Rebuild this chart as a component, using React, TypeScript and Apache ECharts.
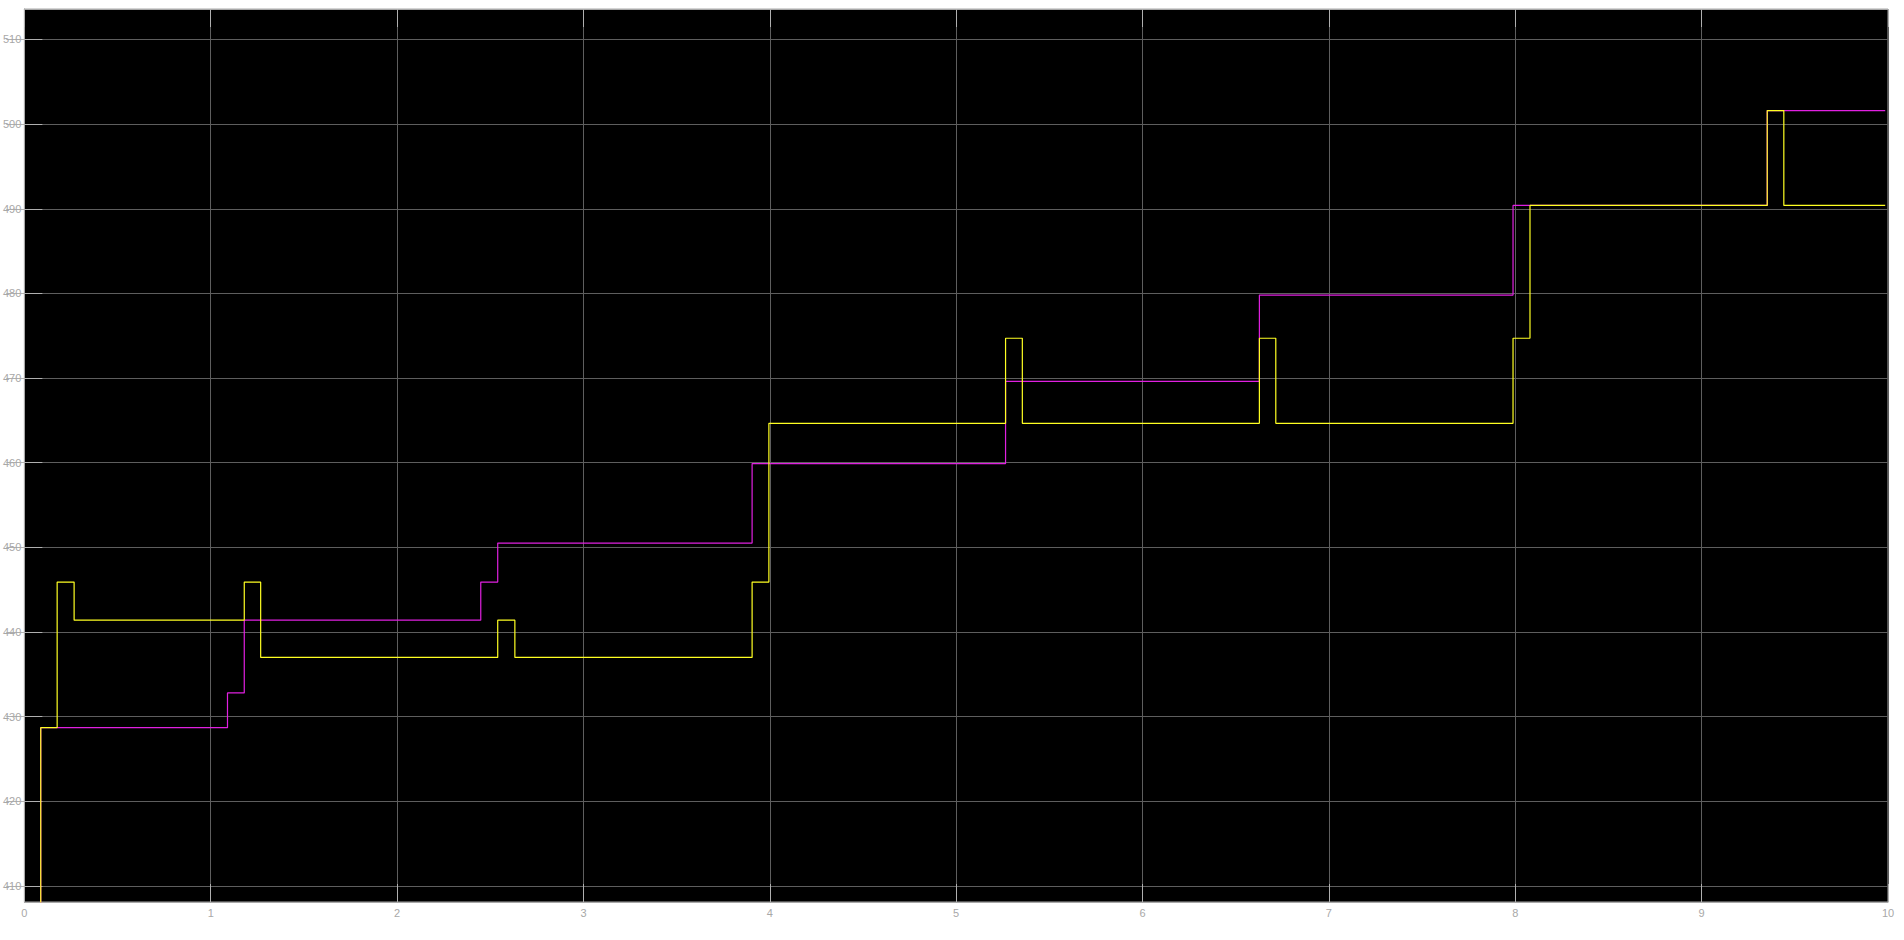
import React, { useEffect, useRef } from "react";
import * as echarts from "echarts";

// Step signals: [time, value held from that time on]
const yellowTimes = [0, 0.088, 0.176, 0.267, 1.18, 1.268, 2.54, 2.632, 3.905, 3.995, 5.265, 5.355, 6.627, 6.715, 7.988, 8.079, 9.352, 9.441, 9.985];
const yellowValues = [400, 428.7, 445.9, 441.4, 445.9, 437.0, 441.4, 437.0, 445.9, 464.65, 474.7, 464.65, 474.7, 464.65, 474.7, 490.4, 501.6, 490.4, 490.4];

const magentaTimes = [0, 0.088, 1.09, 1.18, 2.449, 2.54, 3.905, 5.265, 6.627, 7.988, 9.352, 9.985];
const magentaValues = [400, 428.7, 432.8, 441.4, 445.9, 450.5, 459.9, 469.6, 479.8, 490.4, 501.6, 501.6];

const xTicks = [0, 1, 2, 3, 4, 5, 6, 7, 8, 9, 10];
const yTicks = [410, 420, 430, 440, 450, 460, 470, 480, 490, 500, 510];

const xMin = 0;
const xMax = 10;
const yMin = 408.1;
const yMax = 513.6;

const zip = (t: number[], v: number[]) => t.map((x, i) => [x, v[i]]);

export default function App() {
  const ref = useRef<HTMLDivElement>(null);
  useEffect(() => {
    if (!ref.current) return;
    const chart = echarts.init(ref.current, undefined, { renderer: "svg" });
    const tickColor = "#b0b0b0";
    const gridColor = "#5e5e5e";
    const labelColor = "#a8a8a8";
    const borderColor = "#a8a8a8";
    const font = "Liberation Sans";
    const yAxisBase = {
      type: "value",
      min: yMin,
      max: yMax,
      splitNumber: 10,
      minInterval: 10,
      maxInterval: 10,
    };
    chart.setOption({
      animation: false,
      backgroundColor: "#ffffff",
      grid: {
        left: 22.5,
        top: 9,
        right: 16,
        bottom: 38,
        show: true,
        backgroundColor: "#000000",
        borderColor: borderColor,
        borderWidth: 1,
      },
      xAxis: [
        {
          type: "value",
          min: xMin,
          max: xMax,
          interval: 1,
          position: "bottom",
          axisLine: { show: true, lineStyle: { color: borderColor, width: 1 } },
          axisTick: { show: true, inside: true, length: 18, customValues: xTicks, lineStyle: { color: tickColor } },
          axisLabel: { color: labelColor, fontSize: 11, fontFamily: font, margin: 5, customValues: xTicks },
          splitLine: { show: true, lineStyle: { color: gridColor, width: 1 } },
        },
        {
          type: "value",
          min: xMin,
          max: xMax,
          interval: 1,
          position: "top",
          axisLine: { show: true, lineStyle: { color: borderColor, width: 1 } },
          axisTick: { show: true, inside: true, length: 18, customValues: xTicks, lineStyle: { color: tickColor } },
          axisLabel: { show: false },
          splitLine: { show: false },
        },
      ],
      yAxis: [
        {
          ...yAxisBase,
          position: "left",
          axisLine: { show: true, lineStyle: { color: borderColor, width: 1 } },
          axisTick: { show: true, inside: true, length: 18, customValues: yTicks, lineStyle: { color: tickColor } },
          axisLabel: {
            color: labelColor,
            fontSize: 11,
            fontFamily: font,
            margin: 3,
            customValues: yTicks,
          },
          splitLine: { show: true, lineStyle: { color: gridColor, width: 1 } },
        },
        {
          ...yAxisBase,
          position: "right",
          axisLine: { show: true, lineStyle: { color: borderColor, width: 1 } },
          axisTick: { show: true, inside: true, length: 18, customValues: yTicks, lineStyle: { color: tickColor } },
          axisLabel: { show: false },
          splitLine: { show: false },
        },
      ],
      series: [
        {
          name: "magenta",
          type: "line",
          step: "end",
          showSymbol: false,
          symbol: "none",
          xAxisIndex: 0,
          yAxisIndex: 0,
          clip: true,
          data: zip(magentaTimes, magentaValues),
          lineStyle: { color: "#e020e0", width: 1.2 },
          z: 3,
        },
        {
          name: "yellow",
          type: "line",
          step: "end",
          showSymbol: false,
          symbol: "none",
          xAxisIndex: 0,
          yAxisIndex: 0,
          clip: true,
          data: zip(yellowTimes, yellowValues),
          lineStyle: { color: "#ffff22", width: 1.2 },
          z: 4,
        },
      ],
    });
    return () => chart.dispose();
  }, []);
  return (
    <div
      ref={ref}
      style={{ position: "fixed", left: 0, top: 0, width: 1904, height: 940, background: "#fff" }}
    />
  );
}
